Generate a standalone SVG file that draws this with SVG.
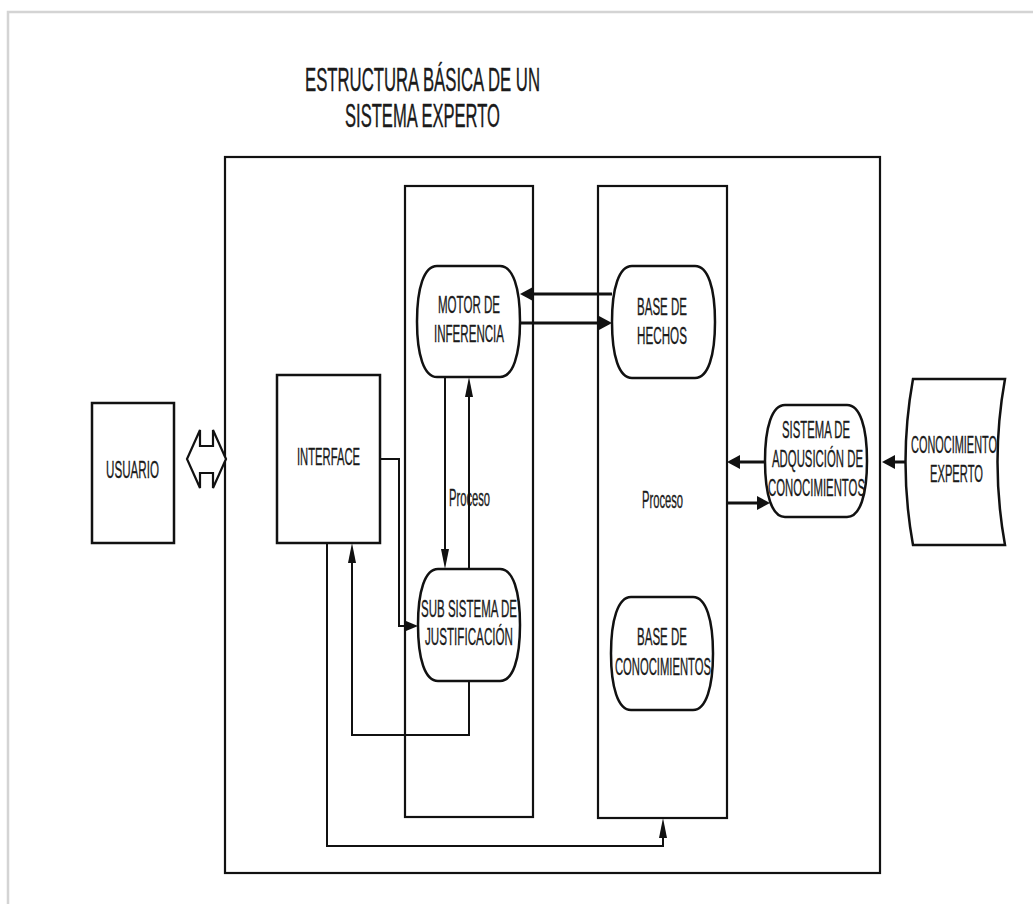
<svg xmlns="http://www.w3.org/2000/svg" width="1033" height="904" viewBox="0 0 1033 904">
<style>
.bx{fill:#fff;stroke:#111;stroke-width:2.5}
.col{fill:none;stroke:#111;stroke-width:2.2}
.t{font-family:"Liberation Sans",Arial,sans-serif;font-size:23px;fill:#1a1a1a;stroke:#1a1a1a;stroke-width:0.35}
.ttl{font-family:"Liberation Sans",Arial,sans-serif;font-size:33px;fill:#1a1a1a;stroke:#1a1a1a;stroke-width:0.4}
.thk{fill:none;stroke:#111;stroke-width:3}
.thn{fill:none;stroke:#111;stroke-width:2}
</style>
<defs>
<marker id="big" viewBox="0 0 13 14" refX="7" refY="7" markerWidth="13" markerHeight="14" markerUnits="userSpaceOnUse" orient="auto"><path d="M0,0 L13,7 L0,14 Z" fill="#111"/></marker>
<marker id="lng" viewBox="0 0 20 8" refX="15" refY="4" markerWidth="20" markerHeight="8" markerUnits="userSpaceOnUse" orient="auto"><path d="M0,0 L20,4 L0,8 Z" fill="#111"/></marker>
<marker id="sht" viewBox="0 0 12 10" refX="8" refY="5" markerWidth="12" markerHeight="10" markerUnits="userSpaceOnUse" orient="auto"><path d="M0,0 L12,5 L0,10 Z" fill="#111"/></marker>
</defs>
<rect width="1033" height="904" fill="#fff"/>
<path d="M8,904 V12 H1033" fill="none" stroke="#d4d4d4" stroke-width="2.5"/>

<g id="title">
<text class="ttl" x="305" y="91" textLength="235" lengthAdjust="spacingAndGlyphs">ESTRUCTURA BÁSICA DE UN</text>
<text class="ttl" x="345" y="127" textLength="155" lengthAdjust="spacingAndGlyphs">SISTEMA EXPERTO</text>
</g>

<g id="sistema-experto"><rect class="col" x="225" y="157" width="655" height="716" stroke-width="2.6"/></g>
<g id="columna-proceso-1"><rect class="col" x="405" y="186" width="128" height="631"/>
<text class="t" x="449" y="506" textLength="41" lengthAdjust="spacingAndGlyphs" font-size="21">Proceso</text></g>
<g id="columna-proceso-2"><rect class="col" x="598" y="186" width="129" height="632"/>
<text class="t" x="642" y="508" textLength="41" lengthAdjust="spacingAndGlyphs" font-size="21">Proceso</text></g>

<g id="usuario"><rect class="bx" x="92" y="403" width="82" height="140"/>
<text class="t" x="106" y="478" textLength="53" lengthAdjust="spacingAndGlyphs">USUARIO</text></g>

<g id="interface"><rect class="bx" x="277" y="375" width="103" height="168"/>
<text class="t" x="297" y="465" textLength="63" lengthAdjust="spacingAndGlyphs">INTERFACE</text></g>

<g id="motor-inferencia"><path class="bx" d="M437,266 H500 C513,266 520,288 520,321.5 C520,355 513,377 500,377 H437 C424,377 417,355 417,321.5 C417,288 424,266 437,266 Z"/>
<text class="t" x="438" y="313" textLength="62" lengthAdjust="spacingAndGlyphs">MOTOR DE</text>
<text class="t" x="434" y="342" textLength="70" lengthAdjust="spacingAndGlyphs">INFERENCIA</text></g>

<g id="base-hechos"><path class="bx" d="M632,266 H695 C708,266 715,288 715,322 C715,356 708,378 695,378 H632 C619,378 612,356 612,322 C612,288 619,266 632,266 Z"/>
<text class="t" x="637" y="315" textLength="50" lengthAdjust="spacingAndGlyphs">BASE DE</text>
<text class="t" x="637" y="344" textLength="50" lengthAdjust="spacingAndGlyphs">HECHOS</text></g>

<g id="sub-sistema-justificacion"><path class="bx" d="M438,569 H500 C513,569 520,591 520,625 C520,659 513,681 500,681 H438 C425,681 418,659 418,625 C418,591 425,569 438,569 Z"/>
<text class="t" x="421" y="617" textLength="96" lengthAdjust="spacingAndGlyphs">SUB SISTEMA DE</text>
<text class="t" x="425" y="645" textLength="88" lengthAdjust="spacingAndGlyphs">JUSTIFICACIÓN</text></g>

<g id="base-conocimientos"><path class="bx" d="M631,597 H693 C706,597 713,620 713,653.5 C713,687 706,710 693,710 H631 C618,710 611,687 611,653.5 C611,620 618,597 631,597 Z"/>
<text class="t" x="637" y="645" textLength="50" lengthAdjust="spacingAndGlyphs">BASE DE</text>
<text class="t" x="615" y="675" textLength="96" lengthAdjust="spacingAndGlyphs">CONOCIMIENTOS</text></g>

<g id="sistema-adquisicion"><path class="bx" d="M785,405 H847 C860,405 867,427 867,461 C867,495 860,517 847,517 H785 C772,517 765,495 765,461 C765,427 772,405 785,405 Z"/>
<text class="t" x="782" y="438" textLength="68" lengthAdjust="spacingAndGlyphs">SISTEMA DE</text>
<text class="t" x="772" y="467" textLength="91" lengthAdjust="spacingAndGlyphs">ADQUSICIÓN DE</text>
<text class="t" x="768" y="496" textLength="97" lengthAdjust="spacingAndGlyphs">CONOCIMIENTOS</text></g>

<g id="conocimiento-experto"><path class="bx" d="M913,379 H1005 Q990,462 1005,545 H913 Q898,462 913,379 Z"/>
<text class="t" x="911" y="453" textLength="86" lengthAdjust="spacingAndGlyphs" font-size="22">CONOCIMIENTO</text>
<text class="t" x="930" y="482" textLength="53" lengthAdjust="spacingAndGlyphs" font-size="22">EXPERTO</text></g>

<g id="connectors">
<path d="M187,459 L200,430 V446 H213 V430 L226,459 L213,488 V473 H200 V488 Z" fill="#fff" stroke="#111" stroke-width="2.2"/>
<path class="thk" d="M612,294 H526" marker-end="url(#big)"/>
<path class="thk" d="M520,323 H606" marker-end="url(#big)"/>
<path class="thk" d="M765,462 H733" marker-end="url(#big)"/>
<path class="thk" d="M727,503 H764" marker-end="url(#big)"/>
<path class="thk" d="M906,462 H888" marker-end="url(#big)"/>
<path class="thn" d="M380,459 H399 V626 H414" marker-end="url(#sht)"/>
<path class="thn" d="M445,377 V564" marker-end="url(#lng)"/>
<path class="thn" d="M469,569 V382" marker-end="url(#lng)"/>
<path class="thn" d="M469,681 V735 H352 V548" marker-end="url(#lng)"/>
<path class="thn" d="M327,543 V846 H663 V823" marker-end="url(#lng)"/>
</g>
</svg>
